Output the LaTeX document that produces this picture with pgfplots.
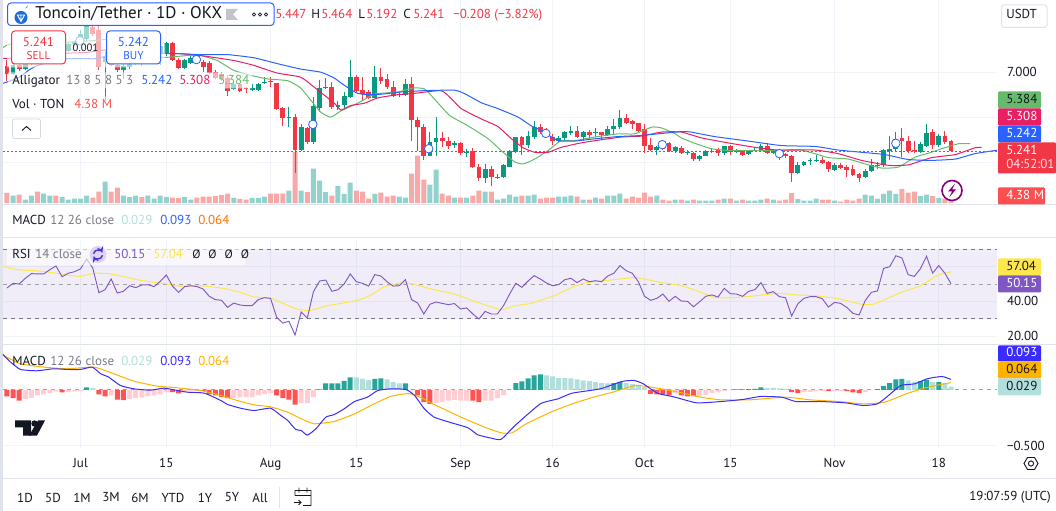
\documentclass[border=0pt]{standalone}
\usepackage{fontspec}
\setmainfont{PT Sans}
\usepackage{pgfplots}
\usepackage{pgfplotstable}
\pgfplotsset{compat=1.18}

\definecolor{upc}{HTML}{089981}
\definecolor{downc}{HTML}{F23645}
\definecolor{volup}{HTML}{92D2CC}
\definecolor{voldown}{HTML}{F7A9A7}
\definecolor{gridc}{HTML}{F0F3FA}
\definecolor{sepc}{HTML}{E0E3EB}
\definecolor{txt}{HTML}{131722}
\definecolor{greyt}{HTML}{787B86}
\definecolor{jaw}{HTML}{2962FF}
\definecolor{teeth}{HTML}{E91E63}
\definecolor{lips}{HTML}{66BB6A}
\definecolor{rsic}{HTML}{7E57C2}
\definecolor{rsima}{HTML}{FDE74C}
\definecolor{macdc}{HTML}{3A2BFF}
\definecolor{sigc}{HTML}{FFB300}
\definecolor{hup}{HTML}{26A69A}
\definecolor{hupl}{HTML}{B2DFDB}
\definecolor{hdnl}{HTML}{FFCDD2}
\definecolor{hdn}{HTML}{FF5252}

% daily bars: price, volume (M), RSI, MACD histogram + colour code
\pgfplotstableread{
i o h l c v r m k
0 7.13 7.27 6.80 6.95 5.66 47.7 -0.060 4
1 6.95 7.19 6.93 7.15 4.20 50.4 -0.075 4
2 7.15 7.20 7.02 7.07 4.75 50.0 -0.096 4
3 7.07 7.22 7.04 7.19 2.01 53.3 -0.081 3
4 7.19 7.32 7.15 7.30 4.20 56.0 -0.072 3
5 7.30 7.33 7.19 7.22 6.39 55.8 -0.051 3
6 7.22 7.44 7.19 7.41 5.29 55.8 -0.042 3
7 7.41 7.52 7.37 7.48 4.20 58.3 -0.030 3
8 7.48 7.52 7.37 7.41 4.20 60.4 -0.015 3
9 7.41 7.56 7.37 7.52 3.29 54.2 -0.024 4
10 7.48 7.67 7.44 7.63 2.01 56.2 -0.021 3
11 7.63 7.70 7.59 7.67 2.56 57.1 -0.015 3
12 7.67 7.93 7.63 7.85 2.56 58.7 -0.009 3
13 7.74 8.15 7.70 8.04 4.20 64.4 0.021 1
14 8.01 8.30 7.81 7.85 3.10 59.2 0.018 2
15 7.93 8.07 7.05 7.11 6.39 45.0 -0.042 4
16 7.22 7.48 6.37 7.33 11.86 46.7 -0.060 4
17 7.33 7.41 7.15 7.17 6.39 52.9 -0.051 3
18 7.17 7.22 7.00 7.04 8.58 44.8 -0.087 4
19 7.04 7.19 6.85 7.13 4.20 45.8 -0.093 4
20 7.11 7.26 7.07 7.19 3.29 49.0 -0.081 3
21 7.19 7.33 7.15 7.26 4.20 47.9 -0.075 3
22 7.33 7.37 7.13 7.22 3.29 49.4 -0.069 3
23 7.30 7.48 7.26 7.41 4.20 49.6 -0.057 3
24 7.37 7.52 7.33 7.48 2.56 48.5 -0.051 3
25 7.41 7.70 7.15 7.59 4.20 51.5 -0.042 3
26 7.41 7.67 7.37 7.64 3.47 55.2 -0.021 3
27 7.64 7.67 7.26 7.27 3.10 48.8 -0.021 4
28 7.27 7.32 7.07 7.09 2.74 45.2 -0.033 4
29 7.09 7.30 7.07 7.26 3.29 48.5 -0.021 3
30 7.21 7.35 7.19 7.32 2.01 49.0 -0.015 3
31 7.30 7.35 7.19 7.22 3.10 48.5 -0.009 3
32 7.22 7.27 7.00 7.11 3.65 47.1 -0.009 4
33 7.21 7.24 6.96 6.98 3.65 42.9 -0.042 4
34 7.00 7.04 6.85 6.87 3.83 41.0 -0.051 4
35 6.95 7.00 6.81 6.85 4.56 40.6 -0.066 4
36 6.87 6.93 6.48 6.59 5.29 36.5 -0.075 4
37 6.62 6.76 6.61 6.73 2.92 39.0 -0.075 3
38 6.73 6.74 6.58 6.59 2.37 37.9 -0.066 3
39 6.65 6.68 6.53 6.62 2.01 37.5 -0.066 3
40 6.61 6.74 6.59 6.65 2.92 37.5 -0.066 3
41 6.61 6.77 6.59 6.74 2.92 41.0 -0.051 3
42 6.76 6.90 6.73 6.78 3.65 42.1 -0.036 3
43 6.80 6.90 6.68 6.79 5.29 41.7 -0.030 3
44 6.76 6.77 6.16 6.18 5.29 30.8 -0.051 4
45 6.20 6.22 5.81 5.98 5.29 27.5 -0.075 4
46 5.98 6.22 5.78 6.00 6.94 28.5 -0.087 4
47 6.01 6.06 4.76 5.26 27.92 20.6 -0.132 4
48 5.26 5.85 5.24 5.78 6.94 33.8 -0.120 3
49 5.76 5.79 5.41 5.44 6.02 30.4 -0.120 3
50 5.44 6.44 5.41 6.24 18.98 45.6 -0.066 3
51 6.21 6.83 6.11 6.64 12.41 51.7 0.003 1
52 6.64 6.87 6.62 6.68 6.02 52.3 0.057 1
53 6.68 6.78 6.19 6.22 4.20 45.8 0.057 1
54 6.22 6.37 6.15 6.28 9.31 46.7 0.057 1
55 6.26 6.56 6.21 6.46 5.11 50.0 0.081 1
56 6.44 7.28 6.42 6.90 11.32 55.8 0.111 1
57 6.90 6.93 6.56 6.59 6.94 51.3 0.111 2
58 6.61 6.89 6.39 6.52 6.39 50.4 0.099 2
59 6.56 6.61 6.41 6.43 2.56 48.8 0.087 2
60 6.43 7.13 6.42 6.90 5.11 55.4 0.099 1
61 6.90 7.09 6.74 6.81 5.84 54.6 0.102 1
62 6.84 6.95 6.63 6.67 3.65 51.3 0.093 2
63 6.68 6.80 6.44 6.48 4.20 48.8 0.069 2
64 6.50 6.59 6.44 6.52 3.65 49.0 0.057 2
65 6.50 6.84 6.48 6.73 3.10 52.5 0.057 1
66 6.73 6.90 5.47 5.94 16.24 41.0 -0.003 4
67 5.94 6.01 5.24 5.78 26.10 39.0 -0.051 4
68 5.79 5.84 5.04 5.13 12.96 32.7 -0.111 4
69 5.14 5.68 5.13 5.45 10.22 38.3 -0.126 4
70 5.44 6.01 5.13 5.54 18.43 39.6 -0.117 3
71 5.54 5.68 5.33 5.46 5.29 38.8 -0.111 3
72 5.48 5.57 5.29 5.37 4.20 38.1 -0.096 3
73 5.39 5.47 5.32 5.43 3.10 38.7 -0.090 3
74 5.43 5.44 5.17 5.20 3.10 35.6 -0.096 3
75 5.20 5.30 5.11 5.23 3.10 36.2 -0.096 3
76 5.24 5.32 4.87 4.89 4.20 32.7 -0.096 4
77 4.90 4.96 4.59 4.64 6.94 29.8 -0.111 4
78 4.64 4.95 4.53 4.84 6.39 34.2 -0.096 3
79 4.84 4.91 4.47 4.66 6.39 32.7 -0.096 3
80 4.66 4.73 4.62 4.68 2.01 32.7 -0.075 3
81 4.66 4.96 4.65 4.93 2.56 37.5 -0.051 3
82 4.90 5.26 4.89 5.24 4.75 44.2 0.000 1
83 5.22 5.57 5.20 5.55 3.65 50.4 0.060 1
84 5.55 5.59 5.17 5.39 4.20 48.1 0.075 1
85 5.39 5.70 5.32 5.59 4.20 51.7 0.102 1
86 5.57 5.91 5.52 5.79 4.75 54.8 0.129 1
87 5.79 5.85 5.63 5.66 2.56 52.9 0.138 1
88 5.70 5.76 5.57 5.63 3.10 50.6 0.129 2
89 5.56 5.63 5.39 5.48 3.10 49.0 0.120 2
90 5.47 5.59 5.42 5.54 3.65 49.6 0.105 2
91 5.53 5.70 5.48 5.66 3.65 52.5 0.105 2
92 5.64 5.81 5.61 5.70 4.20 53.3 0.102 2
93 5.70 5.81 5.54 5.57 3.65 50.8 0.093 2
94 5.57 5.70 5.47 5.68 2.01 52.9 0.084 2
95 5.68 5.72 5.52 5.61 2.01 51.3 0.078 2
96 5.64 5.76 5.57 5.66 3.10 51.9 0.069 2
97 5.66 5.67 5.50 5.61 2.56 51.3 0.060 2
98 5.61 5.81 5.59 5.74 4.20 54.6 0.057 2
99 5.73 5.96 5.63 5.81 4.20 56.2 0.060 1
100 5.79 6.15 5.73 5.99 5.29 60.6 0.069 1
101 5.99 6.07 5.84 5.87 2.56 57.7 0.060 2
102 5.91 5.93 5.74 5.84 3.65 56.2 0.054 2
103 5.87 5.88 5.67 5.70 3.10 51.3 0.039 2
104 5.73 5.85 5.20 5.37 5.84 42.9 0.024 2
105 5.39 5.53 5.24 5.28 3.65 40.6 -0.036 4
106 5.28 5.35 5.15 5.34 4.20 41.7 -0.042 4
107 5.37 5.42 5.26 5.30 2.01 44.2 -0.042 4
108 5.42 5.44 5.23 5.24 1.46 40.0 -0.051 4
109 5.24 5.37 5.21 5.33 2.01 42.9 -0.030 3
110 5.32 5.37 5.19 5.20 2.01 40.2 -0.051 4
111 5.20 5.26 5.17 5.22 1.46 40.0 -0.060 4
112 5.21 5.22 5.02 5.06 2.01 36.9 -0.057 4
113 5.07 5.17 5.02 5.14 1.46 39.8 -0.060 3
114 5.14 5.26 5.13 5.24 1.46 42.9 -0.045 3
115 5.23 5.32 5.21 5.24 1.46 43.7 -0.030 3
116 5.26 5.32 5.13 5.20 2.01 42.5 -0.024 3
117 5.20 5.37 5.17 5.36 2.56 47.5 -0.012 3
118 5.35 5.39 5.15 5.22 2.56 44.4 -0.006 3
119 5.22 5.30 5.20 5.24 1.46 44.2 0.003 1
120 5.24 5.27 5.13 5.16 2.01 42.9 0.003 1
121 5.18 5.27 5.16 5.25 1.46 45.8 0.006 1
122 5.26 5.32 5.24 5.28 1.46 46.7 0.009 1
123 5.27 5.41 5.26 5.37 2.01 50.8 0.021 1
124 5.36 5.42 5.19 5.20 2.56 44.6 0.018 2
125 5.21 5.27 5.19 5.26 2.01 45.6 0.018 2
126 5.24 5.27 5.04 5.13 1.46 42.7 0.012 2
127 5.19 5.20 5.10 5.14 2.01 42.1 0.006 2
128 5.14 5.15 4.56 4.76 5.48 31.5 -0.021 4
129 4.76 5.00 4.74 4.94 2.19 38.5 -0.030 4
130 4.93 5.02 4.92 5.01 1.46 41.7 -0.021 3
131 5.02 5.10 4.94 5.04 1.46 42.7 -0.018 3
132 5.02 5.16 5.00 5.04 2.56 42.7 -0.015 3
133 5.05 5.11 4.96 4.99 2.01 41.5 -0.012 3
134 5.01 5.02 4.78 4.84 2.01 36.7 -0.012 4
135 4.83 4.98 4.81 4.93 1.46 39.4 -0.009 3
136 4.93 4.99 4.84 4.88 0.91 38.8 -0.009 3
137 4.90 4.93 4.68 4.83 2.01 36.5 -0.012 4
138 4.84 4.93 4.70 4.71 1.46 33.1 -0.024 4
139 4.73 4.76 4.57 4.65 2.56 32.1 -0.030 4
140 4.66 4.85 4.64 4.81 4.75 40.4 -0.021 3
141 4.80 5.07 4.79 4.93 4.20 45.2 -0.006 3
142 4.93 5.00 4.84 4.94 2.37 46.0 0.006 1
143 4.93 5.30 4.90 5.26 5.11 59.0 0.036 1
144 5.24 5.59 5.04 5.30 6.94 60.0 0.060 1
145 5.30 5.67 5.22 5.52 5.11 66.3 0.093 1
146 5.53 5.75 5.11 5.47 7.85 65.0 0.099 1
147 5.48 5.59 5.21 5.24 5.84 55.4 0.084 2
148 5.28 5.48 5.20 5.26 6.39 54.4 0.069 2
149 5.23 5.44 5.20 5.40 3.83 58.8 0.078 1
150 5.37 5.84 5.33 5.65 4.75 66.0 0.090 1
151 5.66 5.74 5.30 5.38 3.83 56.3 0.069 2
152 5.38 5.63 5.33 5.59 2.92 60.6 0.069 1
153 5.59 5.70 5.41 5.44 2.56 56.2 0.060 2
154 5.47 5.50 5.22 5.241 4.38 50.15 0.029 2
}\daily

\pgfplotstableread{
i p
-2 6.70
-0.5 6.76
0.6 6.81
2.2 6.90
3.6 7.05
5 7.15
7.1 7.22
9.8 7.30
14.7 7.30
16.4 7.37
20.7 7.39
25.1 7.42
28.3 7.41
31.6 7.39
36 7.39
40.3 7.32
44.1 7.19
47.9 7.07
51.2 7.00
53.4 6.87
54.5 6.76
55.9 6.63
57.2 6.53
58.9 6.50
61 6.51
64.3 6.56
68.1 6.59
73 6.60
74.7 6.52
77.4 6.32
80.1 6.19
83.4 6.00
85.5 5.81
87.2 5.70
89.9 5.48
92.6 5.47
95.9 5.52
99.7 5.57
103 5.59
106.2 5.63
110 5.68
111.6 5.67
115.4 5.57
120.9 5.47
126.3 5.37
131.8 5.35
135.6 5.27
139.4 5.22
143.2 5.17
147 5.06
150.8 5.04
154.7 5.07
157.9 5.19
161.7 5.27
}\jawline

\pgfplotstableread{
i p
-2 7.30
4.4 7.33
9.8 7.42
13.1 7.44
16.4 7.50
20.7 7.48
25.1 7.42
28.3 7.41
31.6 7.37
37 7.26
40.3 7.15
44.1 6.98
47.9 6.89
50.1 6.67
53.4 6.31
54.5 6.16
56.1 6.26
58.3 6.31
60.5 6.43
63.8 6.50
66.5 6.53
70.8 6.59
72.5 6.41
74.1 6.19
77.4 5.96
80.1 5.79
82.3 5.52
84.2 5.32
86.1 5.22
88.3 5.22
90.4 5.33
93.7 5.43
97 5.50
100.3 5.56
103.5 5.58
106.8 5.67
110 5.67
113.3 5.54
117.6 5.43
122 5.33
125.8 5.27
131.8 5.27
135.6 5.19
139.4 5.04
143.8 4.93
147 4.94
150.8 5.10
154.7 5.17
157.9 5.32
159 5.33
}\teethline

\pgfplotstableread{
i p
-2 7.40
-0.5 7.56
0.6 7.63
5 7.67
10 7.67
14 7.70
18 7.74
22 7.56
25.1 7.33
29.4 7.37
31.6 7.37
34.3 7.26
37 7.04
39.8 6.93
42.5 6.85
45.8 6.81
47.9 6.65
49.6 6.37
51.2 6.11
52.8 6.00
54.5 6.14
57.2 6.31
58.9 6.44
60.2 6.52
63.8 6.56
66.2 6.65
68.1 6.63
69.5 6.44
72.2 6.04
75.2 5.81
78.5 5.52
80.6 5.26
82.8 5.01
84.2 4.96
86.1 5.07
88.3 5.26
90.4 5.48
92.6 5.48
96.4 5.57
99.7 5.63
102.4 5.63
105.2 5.78
106.8 5.76
109 5.63
110 5.54
112.2 5.42
114.9 5.30
117.6 5.26
121.4 5.26
125.3 5.26
129.1 5.28
132.3 5.17
134 5.10
137.2 5.07
140 4.96
142.7 4.87
145.4 4.89
148.1 5.11
150.3 5.20
152.5 5.30
155.2 5.41
157.1 5.41
}\lipsline

\pgfplotstableread{
i m
-1 60.6
1.65 58.3
6 57.3
9.8 55.2
12 54.4
14.2 56.2
17 55.8
21.8 52.1
26.2 50.0
28.3 48.7
31.6 49.0
34.9 47.7
38.1 45.2
40.3 42.5
43 41.9
46.9 36.0
49.3 34.6
52.3 37.5
57.2 40.6
59.4 43.7
61.6 48.5
64.3 50.6
65.9 50.2
69.7 46.7
73 44.2
76.8 39.4
80.6 35.2
82.9 37.5
85.3 38.7
89.3 43.3
92.2 48.1
94.5 50.8
98 52.1
102.6 53.7
106.7 50.8
109.6 49.4
112.5 46.2
115.4 42.3
118.3 42.1
121.2 42.9
125.8 44.6
128.7 43.7
131.6 43.3
135.7 41.5
139.1 38.5
141.5 38.5
145.6 44.8
149 49.0
151.9 55.2
154 57.04
}\rsiavg

\pgfplotstableread{
i v
-1 0.340
-0.5 0.308
0.6 0.249
2.2 0.183
4.9 0.171
7.6 0.189
9.8 0.183
12 0.183
13.9 0.204
15.3 0.144
16.6 0.114
18.5 0.039
20.7 0.009
23.4 -0.003
25.6 0.015
27.2 0.000
29.4 -0.021
32.2 -0.030
34.9 -0.096
36 -0.132
38.1 -0.165
40.3 -0.186
43 -0.165
44.7 -0.231
45.8 -0.275
47.1 -0.356
48 -0.365
49 -0.407
50.4 -0.350
52 -0.246
53.4 -0.222
55 -0.171
56.7 -0.105
58.8 -0.066
60.5 -0.006
62.7 0.009
65.1 0.003
66.5 -0.051
68.1 -0.171
69.7 -0.246
72.5 -0.296
75.2 -0.341
76.8 -0.404
79 -0.434
80.6 -0.445
82.9 -0.320
87 -0.126
89.9 -0.081
92.2 -0.030
96.8 0.009
100.3 0.075
102.3 0.084
103.8 0.054
106.1 -0.030
109 -0.066
112.5 -0.117
116.5 -0.105
120 -0.087
122.9 -0.060
126.4 -0.066
128.7 -0.105
132.8 -0.105
136.8 -0.117
139.7 -0.141
142 -0.126
143.8 -0.051
145.8 0.039
148.1 0.054
150.1 0.099
152.5 0.120
154 0.093
}\macdline

\pgfplotstableread{
i v
-1 0.340
-0.5 0.308
2.2 0.234
6 0.204
9.8 0.189
14.2 0.204
17 0.153
20.7 0.078
24.5 0.033
27.2 0.021
31.6 -0.006
34.9 -0.051
37.6 -0.096
40.3 -0.135
43 -0.153
45.8 -0.201
48 -0.260
50.1 -0.305
53.4 -0.284
56.7 -0.216
59.9 -0.126
62.7 -0.057
65.6 -0.033
67.6 -0.072
69.7 -0.132
74.1 -0.246
77.9 -0.335
80.6 -0.386
82.4 -0.386
84.7 -0.305
88.7 -0.201
92.2 -0.126
95.7 -0.066
99.2 -0.015
102.6 0.039
106.1 0.015
109.6 -0.021
113.1 -0.066
116.5 -0.090
121.2 -0.090
127 -0.066
131 -0.090
135.7 -0.105
139.7 -0.126
143.2 -0.111
146.7 -0.036
149.6 0.015
152.5 0.050
154 0.064
}\signalline

\newcommand{\fs}[1]{\fontsize{#1}{#1}\selectfont}
\pgfplotsset{
  pane/.style={scale only axis, anchor=south west, width=745.5pt,
    xmin=-0.643, xmax=161.5, axis line style={draw=none}, tick style={draw=none},
    major tick length=0pt, grid style={gridc, line width=0.75pt},
    xtick={12,26,43,57,74,89,104,118,135,152},
    xticklabels={}, yticklabel pos=right,
    tick label style={font=\fs{9.75}, text=txt},
    yticklabel style={anchor=west, xshift=4pt}},
  wick/.style={draw=none, no markers, forget plot,
    error bars/.cd, y dir=both, y explicit, error mark=none,
    error bar style={draw=#1, solid, line width=0.75pt}},
  body/.style={draw=none, no markers, forget plot,
    error bars/.cd, y dir=both, y explicit, error mark=none,
    error bar style={draw=#1, solid, line width=3.6pt}},
  ind/.style={draw=#1, no markers, solid, line width=0.75pt, smooth, tension=0.3},
}
% coordinates of the overlay are screen pixels
\tikzset{
  screen/.style={x=0.75pt, y=-0.75pt},
  lab/.style={anchor=mid west, inner sep=0pt, text=txt, font=\fs{9.75}},
}
\newcommand{\pricetag}[6]{% y1 y2 x2 fill text label
  \fill[#4, rounded corners=0.8pt] (998,#1) rectangle (#3,#2);
  \node[lab, text=#5] at (1006,{(#1+#2)/2}) {#6};}

\begin{document}
\begin{tikzpicture}

% page
\begin{scope}[screen]
  \path[use as bounding box, fill=white] (0,0) rectangle (1056,510);
  \fill[sepc] (0,0) rectangle (3,510);
  \draw[sepc, line width=0.75pt] (3,204) -- (1056,204) (3,237.5) -- (1056,237.5)
    (3,344.5) -- (1056,344.5) (3,477.5) -- (1056,477.5);
\end{scope}

% price pane: grid
\begin{axis}[pane, at={(2.25pt,-153pt)}, height=153pt, ymin=4.06, ymax=8.593,
  xmajorgrids, ymajorgrids, ytick={5,6,7}, yticklabels={,,7.000}]
\end{axis}

% volume
\begin{axis}[pane, hide axis, at={(2.25pt,-153pt)}, height=153pt, ymin=-0.71, ymax=111]
  \addplot[ybar, bar width=3.75pt, bar shift=0pt, fill=volup, draw=none]
    table[x=i, y expr={\thisrow{c}>=\thisrow{o} ? \thisrow{v} : nan}] {\daily};
  \addplot[ybar, bar width=3.75pt, bar shift=0pt, fill=voldown, draw=none]
    table[x=i, y expr={\thisrow{c}>=\thisrow{o} ? nan : \thisrow{v}}] {\daily};
\end{axis}

% candles and alligator
\begin{axis}[pane, hide axis, at={(2.25pt,-153pt)}, height=153pt, ymin=4.06, ymax=8.593]
  \addplot[wick=upc] table[x=i, y expr={\thisrow{c}>=\thisrow{o} ? \thisrow{c} : nan},
    y error plus expr=\thisrow{h}-\thisrow{c}, y error minus expr=\thisrow{c}-\thisrow{l}] {\daily};
  \addplot[wick=downc] table[x=i, y expr={\thisrow{c}>=\thisrow{o} ? nan : \thisrow{c}},
    y error plus expr=\thisrow{h}-\thisrow{c}, y error minus expr=\thisrow{c}-\thisrow{l}] {\daily};
  \addplot[body=upc] table[x=i, y expr={\thisrow{c}>=\thisrow{o} ? \thisrow{c} : nan},
    y error plus expr=0, y error minus expr=\thisrow{c}-\thisrow{o}] {\daily};
  \addplot[body=downc] table[x=i, y expr={\thisrow{c}>=\thisrow{o} ? nan : \thisrow{o}},
    y error plus expr=0, y error minus expr=\thisrow{o}-\thisrow{c}] {\daily};
  \addplot[ind=lips] table[x=i, y=p] {\lipsline};
  \addplot[ind=teeth] table[x=i, y=p] {\teethline};
  \addplot[ind=jaw] table[x=i, y=p] {\jawline};
  \addplot[only marks, mark=*, mark size=3.2pt, mark options={fill=white, draw=jaw, line width=0.6pt}]
    coordinates {(11.9,7.70) (30.9,7.28) (49.9,5.84) (68.8,5.30) (87.9,5.64) (106.9,5.39) (126,5.19) (145,5.42)};
  \addplot[color=downc, no markers, dash pattern=on 1.5pt off 1.5pt, line width=0.9pt]
    coordinates {(-0.643,5.241) (161.5,5.241)};
\end{axis}

% RSI pane
\begin{axis}[pane, at={(2.25pt,-258pt)}, height=79.5pt, ymin=15.1, ymax=76.25,
  xmajorgrids, ymajorgrids, ytick={20,40,60}, yticklabels={20.00,40.00,}]
  \addplot[fill=rsic, fill opacity=0.1, draw=none]
    coordinates {(-0.643,30) (161.5,30) (161.5,70) (-0.643,70)} --cycle;
  \addplot[greyt, dashed, line width=0.75pt] coordinates {(-0.643,70) (161.5,70)};
  \addplot[greyt!70, dashed, line width=0.75pt] coordinates {(-0.643,50) (161.5,50)};
  \addplot[greyt, dashed, line width=0.75pt] coordinates {(-0.643,30) (161.5,30)};
  \addplot[ind=rsima] table[x=i, y=m] {\rsiavg};
  \addplot[rsic, no markers, line width=0.7pt] table[x=i, y=r] {\daily};
\end{axis}

% MACD pane
\begin{axis}[pane, at={(2.25pt,-336pt)}, height=77.25pt, ymin=-0.527, ymax=0.398,
  xmajorgrids, ymajorgrids, ytick={-0.5}, yticklabels={−0.500},
  xticklabels={Jul,15,Aug,15,Sep,16,Oct,15,Nov,18},
  xticklabel style={yshift=-4pt}]
  \addplot[greyt!70, dashed, line width=0.75pt] coordinates {(-0.643,0) (161.5,0)};
  \addplot[ybar, bar width=3.75pt, bar shift=0pt, fill=hup, draw=none]
    table[x=i, y expr={\thisrow{k}==1 ? \thisrow{m} : nan}] {\daily};
  \addplot[ybar, bar width=3.75pt, bar shift=0pt, fill=hupl, draw=none]
    table[x=i, y expr={\thisrow{k}==2 ? \thisrow{m} : nan}] {\daily};
  \addplot[ybar, bar width=3.75pt, bar shift=0pt, fill=hdnl, draw=none]
    table[x=i, y expr={\thisrow{k}==3 ? \thisrow{m} : nan}] {\daily};
  \addplot[ybar, bar width=3.75pt, bar shift=0pt, fill=hdn, draw=none]
    table[x=i, y expr={\thisrow{k}==4 ? \thisrow{m} : nan}] {\daily};
  \addplot[ind=sigc] table[x=i, y=v] {\signalline};
  \addplot[ind=macdc] table[x=i, y=v] {\macdline};
\end{axis}

\begin{scope}[screen]
  % header
  \fill[white, opacity=0.6] (7,26) rectangle (165,67) (8,72) rectangle (252,88) (8,96) rectangle (112,112)
    (7,247) rectangle (245,265);
  \draw[jaw, fill=white, rounded corners=2.5pt, line width=0.75pt] (7.5,2.5) rectangle (274,25);
  \fill[jaw!70!teal] (21,17) circle (6.5);
  \draw[white, line width=0.7pt] (17.5,14.5) -- (24.5,14.5) -- (21,21) -- cycle (21,14.5) -- (21,21);
  \fill[teal!70] (25,8) arc (90:0:3) -- cycle;
  \node[lab, font=\fs{12.75}] at (35,15) {Toncoin/Tether · 1D · OKX};
  \fill[sepc!70!greyt] (226,8.5) -- (238,8.5) -- (233,14) -- (238,19.5) -- (226,19.5) -- cycle;
  \foreach \dx in {254,260,266} \draw[txt, line width=0.6pt] (\dx,14) circle (1.6);
  \node[lab, text=downc] at (275,15) {5.447};
  \node[lab] at (311,15) {H};
  \node[lab, text=downc] at (321,15) {5.464};
  \node[lab] at (358,15) {L};
  \node[lab, text=downc] at (366,15) {5.192};
  \node[lab] at (403,15) {C};
  \node[lab, text=downc] at (413,15) {5.241};
  \node[lab, text=downc] at (453,15) {−0.208 (−3.82\%)};
  % sell / buy
  \draw[downc, fill=white, rounded corners=2.5pt, line width=0.75pt] (11.5,30.5) rectangle (65.5,63.5);
  \node[lab, anchor=center, text=downc] at (38.5,41) {5.241};
  \node[lab, anchor=center, text=downc, font=\fs{8.5}] at (38.5,55) {SELL};
  \draw[jaw, fill=white, rounded corners=2.5pt, line width=0.75pt] (106.5,30.5) rectangle (160.5,63.5);
  \node[lab, anchor=center, text=jaw] at (133.5,41) {5.242};
  \node[lab, anchor=center, text=jaw, font=\fs{8.5}] at (133.5,55) {BUY};
  \node[lab, anchor=center, font=\fs{8}] at (85.5,47.5) {0.001};
  % legends
  \node[lab] at (12,80.5) {Alligator};
  \node[lab, text=greyt] at (66,80.5) {13 8 5 8 5 3};
  \node[lab, text=jaw] at (141,80.5) {5.242};
  \node[lab, text=teeth] at (179,80.5) {5.308};
  \node[lab, text=lips] at (218,80.5) {5.384};
  \node[lab] at (12,104.5) {Vol · TON};
  \node[lab, text=hdn] at (74,104.5) {4.38 M};
  \draw[sepc!90!greyt, rounded corners=1.5pt, line width=0.6pt] (12.5,118.5) rectangle (40.5,138);
  \draw[txt, line width=0.7pt] (22,130) -- (26.5,126) -- (31,130);
  \node[lab] at (12,220.5) {MACD};
  \node[lab, text=greyt] at (50,220.5) {12 26 close};
  \node[lab, text=hupl] at (121,220.5) {0.029};
  \node[lab, text=jaw] at (160,220.5) {0.093};
  \node[lab, text=orange!90!red] at (198,220.5) {0.064};
  \node[lab] at (12,254.5) {RSI};
  \node[lab, text=greyt] at (35,254.5) {14 close};
  \fill[rsic!25] (98,254) circle (8.5);
  \draw[rsic!60!blue, line width=1.1pt, ->, >=stealth] (93.5,253.2) arc (190:340:4.6);
  \draw[rsic!60!blue, line width=1.1pt, ->, >=stealth] (102.5,254.8) arc (10:160:4.6);
  \node[lab, text=rsic] at (114,254.5) {50.15};
  \node[lab, text=rsima] at (153,254.5) {57.04};
  \node[lab, font=\fs{9}] at (192,254.5) {Ø\hspace{6pt}Ø\hspace{6pt}Ø\hspace{6pt}Ø};
  \node[lab] at (12,361.5) {MACD};
  \node[lab, text=greyt] at (50,361.5) {12 26 close};
  \node[lab, text=hupl] at (121,361.5) {0.029};
  \node[lab, text=macdc] at (160,361.5) {0.093};
  \node[lab, text=sigc] at (198,361.5) {0.064};
  % tradingview mark
  \fill[txt] (15,420) -- (31,420) -- (31,435) -- (23,435) -- (23,427) -- (15,427) -- cycle;
  \fill[txt] (34.5,423) circle (3.2);
  \fill[txt] (38,420) -- (45,420) -- (37,435) -- (29,435) -- cycle;
  % right scale
  \draw[sepc, rounded corners=2pt, line width=0.75pt] (1001.5,4.5) rectangle (1047,27);
  \node[lab] at (1006,15) {USDT};
  \pricetag{91}{108}{1041}{lips}{txt}{5.384}
  \pricetag{108}{125}{1041}{teeth}{white}{5.308}
  \pricetag{125}{142}{1041}{jaw}{white}{5.242}
  \fill[downc, rounded corners=0.8pt] (998,142) rectangle (1056,173);
  \node[lab, text=white] at (1006,150.5) {5.241};
  \node[lab, text=white!85!downc] at (1006,165) {04:52:01};
  \pricetag{187}{204}{1045}{hdn!85!downc}{white}{4.38 M}
  \pricetag{258}{275}{1041}{rsima}{txt}{57.04}
  \pricetag{275}{292}{1041}{rsic}{white}{50.15}
  \pricetag{345}{361}{1041}{macdc}{white}{0.093}
  \pricetag{361}{378}{1041}{sigc}{txt}{0.064}
  \pricetag{378}{395}{1041}{hupl}{txt}{0.029}
  % lightning
  \draw[purple!70!blue, fill=white, line width=1.2pt] (952,190) circle (10);
  \fill[purple!70!blue] (955,183) -- (948,191) -- (952,191) -- (949,197) -- (956,189) -- (952,189) -- cycle;
  % hexagon button
  \draw[txt, line width=0.7pt] (1024,463) -- (1027.5,457) -- (1034.5,457) -- (1038,463) -- (1034.5,469) -- (1027.5,469) -- cycle;
  \draw[txt, line width=0.7pt] (1031,463) circle (2.6);
  % range bar
  \node[lab, anchor=center] at (25,497) {1D};
  \node[lab, anchor=center] at (53,497) {5D};
  \node[lab, anchor=center] at (82,497) {1M};
  \node[lab, anchor=center] at (111,497) {3M};
  \node[lab, anchor=center] at (140,497) {6M};
  \node[lab, anchor=center] at (173,497) {YTD};
  \node[lab, anchor=center] at (205,497) {1Y};
  \node[lab, anchor=center] at (232,497) {5Y};
  \node[lab, anchor=center] at (260,497) {All};
  \draw[sepc, line width=0.75pt] (279.5,486) -- (279.5,507);
  \draw[txt, line width=0.7pt] (295,495) -- (295,490) -- (311,490) -- (311,505) -- (303,505)
    (299,487) -- (299,492) (307,487) -- (307,492) (295,495) -- (311,495)
    (294,502) -- (301,502) (298.5,499.5) -- (301,502) -- (298.5,504.5);
  \node[lab, anchor=mid east] at (1051,497) {19:07:59 (UTC)};
\end{scope}
\end{tikzpicture}
\end{document}
